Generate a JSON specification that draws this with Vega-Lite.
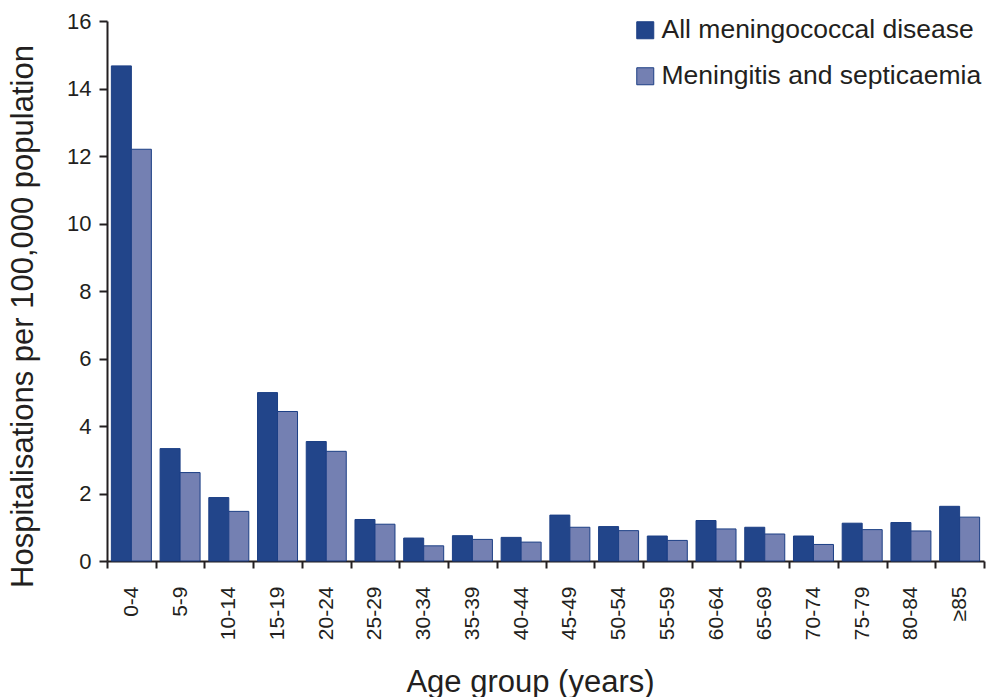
{
  "$schema": "https://vega.github.io/schema/vega-lite/v6.json",
  "width": 877,
  "height": 540,
  "autosize": {"type": "none"},
  "padding": {"left": 107, "top": 21, "right": 5, "bottom": 136},
  "background": "white",
  "config": {
    "view": {"stroke": null},
    "font": "Liberation Sans",
    "axis": {"labelFont": "Liberation Sans", "titleFont": "Liberation Sans", "labelColor": "#231f20", "titleColor": "#231f20", "domainColor": "#231f20", "tickColor": "#231f20", "titleFontWeight": "normal", "grid": false},
    "legend": {"labelFont": "Liberation Sans"}
  },
  "data": {
    "values": [
      {"age": "0-4", "series": "All meningococcal disease", "value": 14.67},
      {"age": "0-4", "series": "Meningitis and septicaemia", "value": 12.2},
      {"age": "5-9", "series": "All meningococcal disease", "value": 3.33},
      {"age": "5-9", "series": "Meningitis and septicaemia", "value": 2.62},
      {"age": "10-14", "series": "All meningococcal disease", "value": 1.88},
      {"age": "10-14", "series": "Meningitis and septicaemia", "value": 1.47},
      {"age": "15-19", "series": "All meningococcal disease", "value": 4.99},
      {"age": "15-19", "series": "Meningitis and septicaemia", "value": 4.43},
      {"age": "20-24", "series": "All meningococcal disease", "value": 3.54},
      {"age": "20-24", "series": "Meningitis and septicaemia", "value": 3.25},
      {"age": "25-29", "series": "All meningococcal disease", "value": 1.23},
      {"age": "25-29", "series": "Meningitis and septicaemia", "value": 1.09},
      {"age": "30-34", "series": "All meningococcal disease", "value": 0.68},
      {"age": "30-34", "series": "Meningitis and septicaemia", "value": 0.45},
      {"age": "35-39", "series": "All meningococcal disease", "value": 0.75},
      {"age": "35-39", "series": "Meningitis and septicaemia", "value": 0.64},
      {"age": "40-44", "series": "All meningococcal disease", "value": 0.7},
      {"age": "40-44", "series": "Meningitis and septicaemia", "value": 0.56},
      {"age": "45-49", "series": "All meningococcal disease", "value": 1.36},
      {"age": "45-49", "series": "Meningitis and septicaemia", "value": 1.0},
      {"age": "50-54", "series": "All meningococcal disease", "value": 1.02},
      {"age": "50-54", "series": "Meningitis and septicaemia", "value": 0.9},
      {"age": "55-59", "series": "All meningococcal disease", "value": 0.74},
      {"age": "55-59", "series": "Meningitis and septicaemia", "value": 0.61},
      {"age": "60-64", "series": "All meningococcal disease", "value": 1.2},
      {"age": "60-64", "series": "Meningitis and septicaemia", "value": 0.95},
      {"age": "65-69", "series": "All meningococcal disease", "value": 1.0},
      {"age": "65-69", "series": "Meningitis and septicaemia", "value": 0.8},
      {"age": "70-74", "series": "All meningococcal disease", "value": 0.74},
      {"age": "70-74", "series": "Meningitis and septicaemia", "value": 0.49},
      {"age": "75-79", "series": "All meningococcal disease", "value": 1.12},
      {"age": "75-79", "series": "Meningitis and septicaemia", "value": 0.93},
      {"age": "80-84", "series": "All meningococcal disease", "value": 1.14},
      {"age": "80-84", "series": "Meningitis and septicaemia", "value": 0.89},
      {"age": "≥85", "series": "All meningococcal disease", "value": 1.62},
      {"age": "≥85", "series": "Meningitis and septicaemia", "value": 1.3}
    ]
  },
  "mark": {"type": "bar", "stroke": "#1c3f85", "strokeWidth": 1},
  "encoding": {
    "x": {
      "field": "age",
      "type": "nominal",
      "sort": null,
      "scale": {"paddingInner": 0, "paddingOuter": 0},
      "axis": {
        "title": "Age group (years)",
        "titleFontSize": 31,
        "titleX": 423,
        "titleY": 130,
        "titleAnchor": null,
        "titleAlign": "center",
        "titleBaseline": "alphabetic",
        "labelAngle": -90,
        "labelFontSize": 21,
        "labelPadding": 18,
        "tickBand": "extent",
        "tickSize": 7,
        "tickWidth": 2,
        "domainWidth": 2
      }
    },
    "xOffset": {"field": "series", "type": "nominal", "scale": {"paddingInner": 0, "paddingOuter": 0.218}},
    "y": {
      "field": "value",
      "type": "quantitative",
      "scale": {"domain": [0, 16], "nice": false},
      "axis": {
        "title": "Hospitalisations per 100,000 population",
        "titleFontSize": 31,
        "titleX": -75,
        "titleY": 295,
        "titleAngle": -90,
        "titleAlign": "center",
        "titleBaseline": "alphabetic",
        "values": [0, 2, 4, 6, 8, 10, 12, 14, 16],
        "labelFontSize": 22,
        "labelPadding": 8,
        "tickSize": 8,
        "tickWidth": 2,
        "domainWidth": 2
      }
    },
    "color": {
      "field": "series",
      "type": "nominal",
      "scale": {"domain": ["All meningococcal disease", "Meningitis and septicaemia"], "range": ["#22458a", "#7480b2"]},
      "legend": {
        "title": null,
        "orient": "none",
        "legendX": 525,
        "legendY": -4,
        "symbolType": "square",
        "symbolSize": 289,
        "symbolStrokeColor": "#1c3f85",
        "symbolStrokeWidth": 1,
        "symbolOpacity": 1,
        "labelFontSize": 26.5,
        "labelColor": "#231f20",
        "labelOffset": 3,
        "rowPadding": 19,
        "labelLimit": 400,
        "padding": 0
      }
    }
  }
}
